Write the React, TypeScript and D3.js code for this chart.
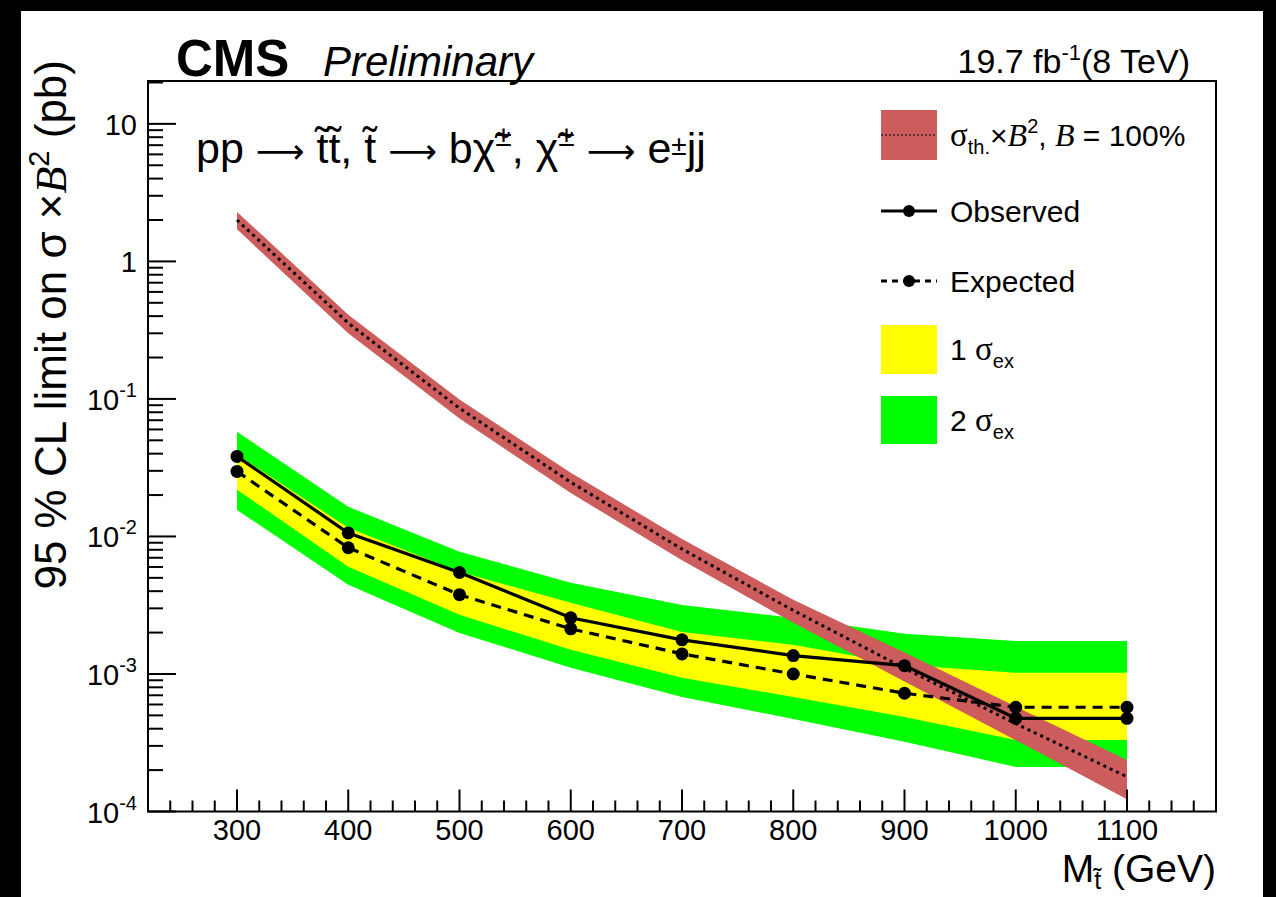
import React from 'react';
import * as d3 from 'd3';

// stop mass points (GeV)
const masses = [300, 400, 500, 600, 700, 800, 900, 1000, 1100];
// 95% CL limits (pb)
const observed = [0.0382, 0.0106, 0.00547, 0.00256, 0.00177, 0.00136, 0.00115, 0.000476, 0.000476];
const expected = [0.0297, 0.00828, 0.00377, 0.00213, 0.0014, 0.001, 0.000724, 0.000573, 0.000573];
const oneSigmaUp = [0.0394, 0.01155, 0.00553, 0.00329, 0.00202, 0.00163, 0.001164, 0.00102, 0.00102];
const oneSigmaDown = [0.0219, 0.00602, 0.00269, 0.0015, 0.000938, 0.00068, 0.000487, 0.000331, 0.000331];
const twoSigmaUp = [0.0578, 0.01644, 0.00774, 0.0046, 0.00318, 0.00256, 0.00196, 0.00174, 0.00174];
const twoSigmaDown = [0.0156, 0.00445, 0.00199, 0.00111, 0.00068, 0.000471, 0.000321, 0.000211, 0.000211];
// theory cross section and its band
const theory = [2.0, 0.356, 0.0856, 0.0248, 0.0081, 0.0029, 0.0011, 0.000435, 0.000179];
const theoryUp = [2.29, 0.41, 0.099, 0.029, 0.0096, 0.00346, 0.00143, 0.00058, 0.000237];
const theoryDown = [1.71, 0.3, 0.072, 0.0207, 0.0067, 0.00236, 0.00088, 0.00033, 0.000123];

const xMajor = [300, 400, 500, 600, 700, 800, 900, 1000, 1100];
const yDecades = [1e-4, 1e-3, 1e-2, 1e-1, 1, 10];
const yExponents = ['-4', '-3', '-2', '-1', '', ''];
const yBase = ['10', '10', '10', '10', '1', '10'];

const W = 1276, H = 897;
const frame = { left: 148, right: 1216, top: 81, bottom: 811.5 };
const SANS = '"Liberation Sans", Arial, Helvetica, sans-serif';
const SERIF = '"Liberation Serif", "DejaVu Serif", serif';
const ARROW = '"DejaVu Sans", sans-serif';

const x = d3.scaleLinear().domain([220, 1180]).range([frame.left, frame.right]);
const y = d3.scaleLog().domain([1e-4, 20.5]).range([frame.bottom, frame.top]);

const idx = masses.map((_, i) => i);

const band = (lo: number[], hi: number[]) =>
  d3.area<number>().x(i => x(masses[i])).y0(i => y(lo[i])).y1(i => y(hi[i]))(idx) || '';
const curve = (v: number[]) =>
  d3.line<number>().x(i => x(masses[i])).y(i => y(v[i]))(idx) || '';

const App = () => {
  const xMinor = d3.range(240, 1180, 20).filter(v => v % 100 !== 0);
  const yMinor = y.ticks().filter(v => !yDecades.some(d => Math.abs(d - v) / d < 1e-6));

  return (
    <div style={{ position: 'fixed', left: 0, top: 0 }}>
      <svg width={W} height={H} style={{ display: 'block' }}>
        <rect x={0} y={0} width={W} height={H} fill="#000" />
        <rect x={21} y={11} width={1242} height={H - 11} fill="#fff" />

        {/* bands */}
        <path d={band(twoSigmaDown, twoSigmaUp)} fill="#00ff00" />
        <path d={band(oneSigmaDown, oneSigmaUp)} fill="#ffff00" />
        <path d={band(theoryDown, theoryUp)} fill="#cd5c5c" />
        <path d={curve(theory)} fill="none" stroke="#000" strokeWidth={3} strokeDasharray="3 4" />

        {/* expected */}
        <path d={curve(expected)} fill="none" stroke="#000" strokeWidth={3.2} strokeDasharray="10 7" />
        {masses.map((m, i) => (
          <circle key={'e' + m} cx={x(m)} cy={y(expected[i])} r={6.5} fill="#000" />
        ))}
        {/* observed */}
        <path d={curve(observed)} fill="none" stroke="#000" strokeWidth={3.2} />
        {masses.map((m, i) => (
          <circle key={'o' + m} cx={x(m)} cy={y(observed[i])} r={6.5} fill="#000" />
        ))}

        {/* frame */}
        <rect x={frame.left} y={frame.top} width={frame.right - frame.left} height={frame.bottom - frame.top}
          fill="none" stroke="#000" strokeWidth={2} />

        {/* x ticks */}
        {xMajor.map(v => (
          <g key={'xt' + v}>
            <line x1={x(v)} x2={x(v)} y1={frame.bottom} y2={frame.bottom - 22} stroke="#000" strokeWidth={2} />
            <text x={x(v)} y={840} textAnchor="middle" fontFamily={SANS} fontSize={29}>{v}</text>
          </g>
        ))}
        {xMinor.map(v => (
          <line key={'xm' + v} x1={x(v)} x2={x(v)} y1={frame.bottom} y2={frame.bottom - 11} stroke="#000" strokeWidth={2} />
        ))}

        {/* y ticks */}
        {yDecades.map((v, i) => (
          <g key={'yt' + v}>
            <line x1={frame.left} x2={frame.left + 28} y1={y(v)} y2={y(v)} stroke="#000" strokeWidth={2} />
            <text x={137} y={y(v) + 11} textAnchor="end" fontFamily={SANS} fontSize={29}>
              {yBase[i]}
              {yExponents[i] && <tspan fontSize={20} dy={-13}>{yExponents[i]}</tspan>}
            </text>
          </g>
        ))}
        {yMinor.map(v => (
          <line key={'ym' + v} x1={frame.left} x2={frame.left + 15} y1={y(v)} y2={y(v)} stroke="#000" strokeWidth={2} />
        ))}

        {/* headers */}
        <text x={176} y={76} fontFamily={SANS} fontWeight="bold" fontSize={51}>CMS</text>
        <text x={323} y={76} fontFamily={SANS} fontStyle="italic" fontSize={42}>Preliminary</text>
        <text x={1190} y={73} textAnchor="end" fontFamily={SANS} fontSize={34}>
          19.7 fb<tspan fontSize={22} dy={-13}>-1</tspan><tspan dy={13}>(8 TeV)</tspan>
        </text>
        <text x={196} y={163} fontFamily={SANS} fontSize={43}>
          {'pp '}
          <tspan fontFamily={ARROW} fontSize={34}>{'\u27f6'}</tspan>
          {' t\u0303t\u0303, t\u0303 '}
          <tspan fontFamily={ARROW} fontSize={34}>{'\u27f6'}</tspan>
          {' b\u03c7\u0303'}
          <tspan fontSize={30} dy={-17}>{'\u00b1'}</tspan>
          <tspan dy={17}>{', \u03c7\u0303'}</tspan>
          <tspan fontSize={30} dy={-17}>{'\u00b1'}</tspan>
          <tspan dy={17}>{' '}</tspan>
          <tspan fontFamily={ARROW} fontSize={34}>{'\u27f6'}</tspan>
          {' e'}
          <tspan fontSize={28} dy={-8}>{'\u00b1'}</tspan>
          <tspan dy={8}>jj</tspan>
        </text>

        {/* axis titles */}
        <text transform="translate(66,60) rotate(-90)" textAnchor="end" fontFamily={SANS} fontSize={44}>
          {'95 % CL limit on \u03c3 \u00d7'}
          <tspan fontFamily={SERIF} fontStyle="italic">B</tspan>
          <tspan fontSize={29} dy={-17}>2</tspan>
          <tspan dy={17}>{' (pb)'}</tspan>
        </text>
        <text x={1216} y={882} textAnchor="end" fontFamily={SANS} fontSize={39}>
          M<tspan fontSize={25} dy={7}>{'t\u0303'}</tspan><tspan dy={-7}>{' (GeV)'}</tspan>
        </text>

        {/* legend */}
        <rect x={881} y={110} width={56} height={50} fill="#cd5c5c" />
        <line x1={881} x2={937} y1={135} y2={135} stroke="#000" strokeWidth={1} strokeDasharray="2 2" />
        <text x={950} y={146} fontFamily={SANS} fontSize={30}>
          <tspan fontFamily={SERIF} fontSize={33}>{'\u03c3'}</tspan>
          <tspan fontSize={20} dy={8}>th.</tspan>
          <tspan dy={-8}>{'\u00d7'}</tspan>
          <tspan fontFamily={SERIF} fontStyle="italic" fontSize={32}>B</tspan>
          <tspan fontSize={20} dy={-13}>2</tspan>
          <tspan dy={13}>{', '}</tspan>
          <tspan fontFamily={SERIF} fontStyle="italic" fontSize={32}>B</tspan>
          <tspan>{' = 100%'}</tspan>
        </text>

        <line x1={881} x2={937} y1={211} y2={211} stroke="#000" strokeWidth={3} />
        <circle cx={909} cy={211} r={6} fill="#000" />
        <text x={950} y={222} fontFamily={SANS} fontSize={30}>Observed</text>

        <line x1={881} x2={937} y1={281} y2={281} stroke="#000" strokeWidth={3} strokeDasharray="6 5" />
        <circle cx={909} cy={281} r={6} fill="#000" />
        <text x={950} y={292} fontFamily={SANS} fontSize={30}>Expected</text>

        <rect x={881} y={325} width={56} height={49} fill="#ffff00" />
        <text x={950} y={360} fontFamily={SANS} fontSize={30}>
          {'1 '}<tspan fontFamily={SERIF} fontSize={33}>{'\u03c3'}</tspan>
          <tspan fontSize={20} dy={8}>ex</tspan>
        </text>

        <rect x={881} y={396} width={56} height={48} fill="#00ff00" />
        <text x={950} y={431} fontFamily={SANS} fontSize={30}>
          {'2 '}<tspan fontFamily={SERIF} fontSize={33}>{'\u03c3'}</tspan>
          <tspan fontSize={20} dy={8}>ex</tspan>
        </text>
      </svg>
    </div>
  );
};

export default App;
